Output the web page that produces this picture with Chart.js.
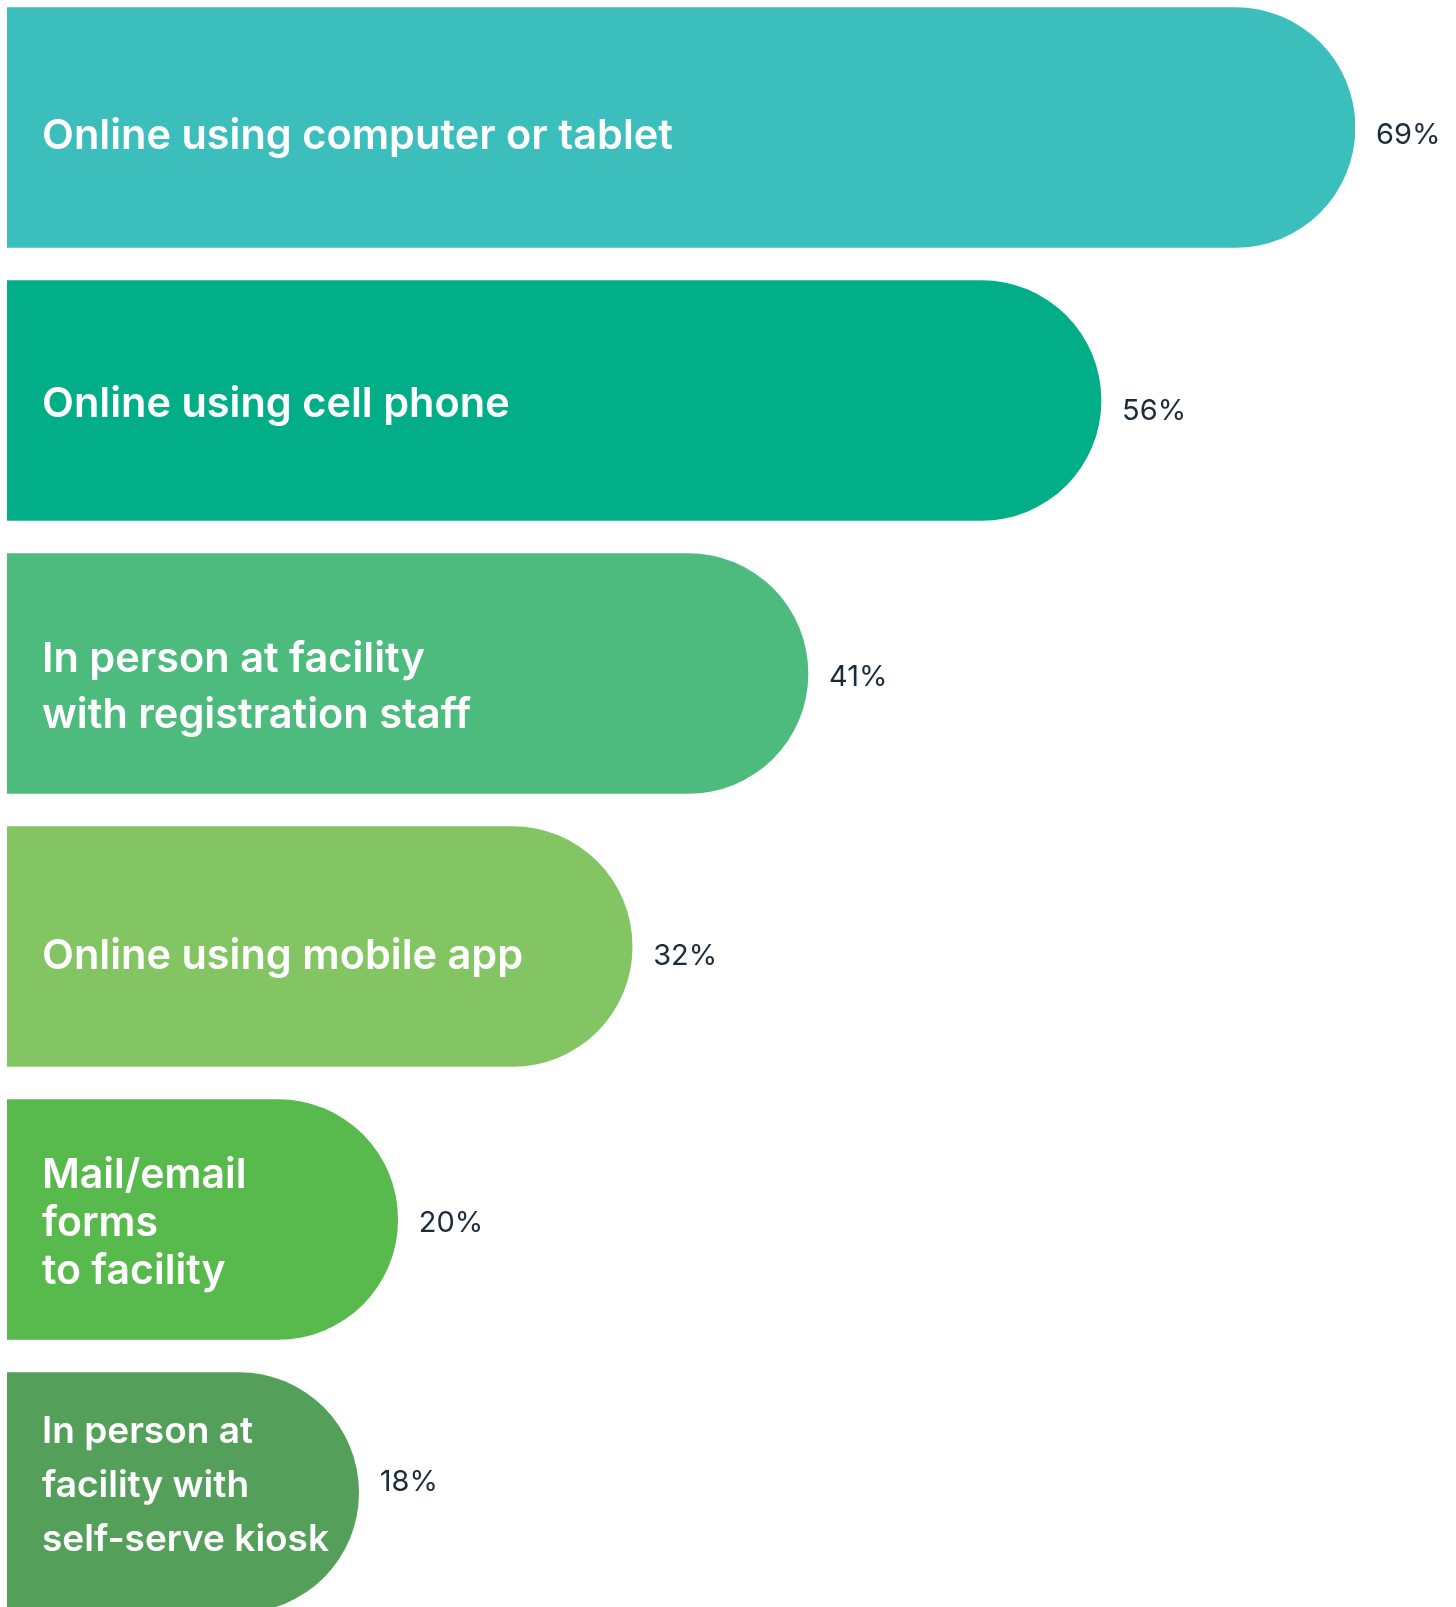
<!DOCTYPE html>
<html>
<head>
<meta charset="utf-8">
<script src="https://cdn.jsdelivr.net/npm/chart.js@4/dist/chart.umd.min.js"></script>
<style>
  html, body { margin: 0; padding: 0; background: #ffffff; overflow: hidden; }
  #wrap { position: absolute; left: 0; top: -9px; width: 1456px; height: 1638px; }
</style>
</head>
<body>
<div id="wrap"><canvas id="c"></canvas></div>
<script>
const categories = [
  ["Online using computer or tablet"],
  ["Online using cell phone"],
  ["In person at facility", "with registration staff"],
  ["Online using mobile app"],
  ["Mail/email", "forms", "to facility"],
  ["In person at", "facility with", "self-serve kiosk"]
];
const values = [69, 56, 41, 32, 20, 18];
const valueLabels = ["69%", "56%", "41%", "32%", "20%", "18%"];
const barColors = ["#3CBFBC", "#02AE88", "#4DBB7E", "#83C563", "#58B94C", "#549F5A"];

// styling
const labelSizes = [41.5, 41.5, 41.5, 41.5, 41, 37];
const lineHeights = [0, 0, 56, 0, 48, 54];
const labelDy = [9, 4, 14, 10, 4, -7];
const valueDy = [8, 11, 4, 10, 4, -10];
const valueFont = "400 29px Inter, 'Open Sans', sans-serif";

const labelPlugin = {
  id: 'barLabels',
  afterDatasetsDraw(chart) {
    const ctx = chart.ctx;
    const meta = chart.getDatasetMeta(0);
    ctx.save();
    meta.data.forEach((bar, i) => {
      const lines = categories[i];
      const lh = lineHeights[i] || 52;
      ctx.font = "600 " + labelSizes[i] + "px Inter, 'Open Sans', sans-serif";
      ctx.fillStyle = "#ffffff";
      ctx.textAlign = "left";
      ctx.textBaseline = "middle";
      const startY = bar.y - (lines.length - 1) * lh / 2 + labelDy[i];
      lines.forEach((ln, k) => {
        ctx.fillText(ln, chart.chartArea.left + 35, startY + k * lh);
      });
      ctx.font = valueFont;
      ctx.fillStyle = "#1B2B3A";
      ctx.fillText(valueLabels[i], bar.x + 21, bar.y + valueDy[i]);
    });
    ctx.restore();
  }
};

new Chart(document.getElementById('c'), {
  type: 'bar',
  data: {
    labels: categories.map(c => c.join(' ')),
    datasets: [{
      data: values,
      backgroundColor: barColors,
      borderWidth: 0,
      barThickness: 240,
      borderRadius: { topLeft: 0, bottomLeft: 0, topRight: 120, bottomRight: 120 },
      borderSkipped: 'start'
    }]
  },
  options: {
    indexAxis: 'y',
    responsive: true,
    maintainAspectRatio: false,
    animation: false,
    layout: { padding: { left: 7, right: 101, top: 0, bottom: 0 } },
    plugins: { legend: { display: false }, tooltip: { enabled: false } },
    scales: {
      x: { display: false, min: 0, max: 69, grid: { display: false } },
      y: { display: false, grid: { display: false }, offset: true }
    }
  },
  plugins: [labelPlugin]
});
</script>
</body>
</html>
